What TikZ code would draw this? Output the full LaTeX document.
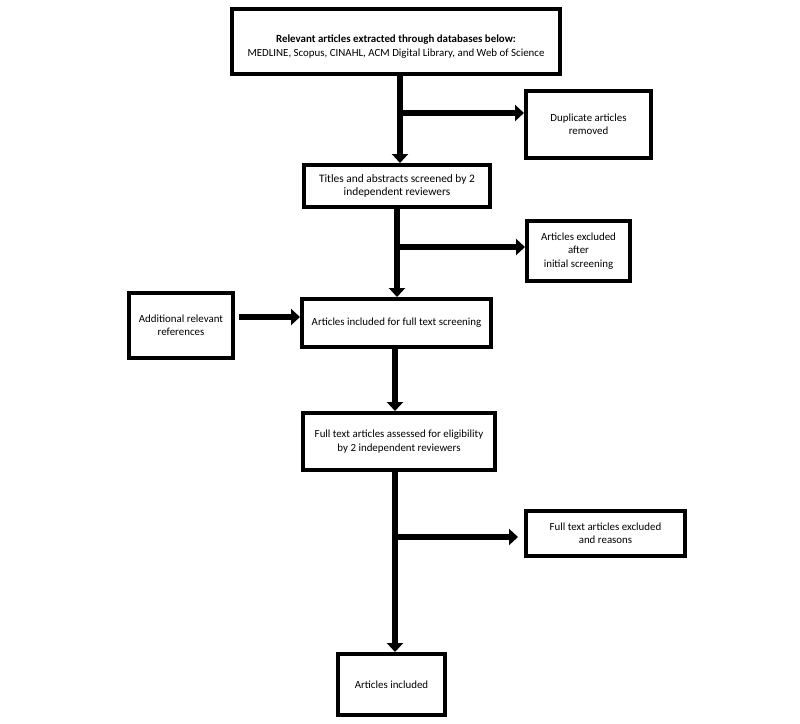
\documentclass[tikz,border=0pt]{standalone}
\usepackage{fontspec}
\setmainfont{Carlito}
\usepackage{tikz}
\usetikzlibrary{positioning,arrows.meta,calc}
\tikzset{
  flow/.style={-{Triangle[length=9pt,width=16pt]}, line width=6.5pt, draw=black},
  every node/.style={anchor=center}
}

\begin{document}
\begin{tikzpicture}[
    x=1pt, y=-1pt,
    font=\fontsize{10.9}{13.3}\selectfont,
    box/.style={draw=black, line width=4pt, align=center, inner sep=2pt},
    larger/.style={font=\fontsize{11.4}{13.3}\selectfont},
    flow/.style={-{Triangle[length=9pt,width=16pt]}, line width=6.5pt, draw=black}
  ]
  \useasboundingbox (0,0) rectangle (800,723);

  % boxes of the main column
  \node[box, minimum width=328pt, minimum height=65pt] (search) at (396,41.5)
    {\rule{0pt}{18pt}\textbf{Relevant articles extracted through databases below:}\\MEDLINE, Scopus, CINAHL, ACM Digital Library, and Web of Science};
  \node[box, larger, minimum width=186pt, minimum height=42pt] (titles) at (397,186)
    {Titles and abstracts screened by 2\\independent reviewers};
  \node[box, minimum width=189pt, minimum height=48pt] (incl) at (396.5,323)
    {Articles included for full text screening};
  \node[box, minimum width=192pt, minimum height=57pt] (full) at (399,441.5)
    {Full text articles assessed for eligibility\\by 2 independent reviewers};
  \node[box, minimum width=107pt, minimum height=61pt] (final) at (391.5,684.5)
    {Articles included};

  % side boxes
  \node[box, minimum width=125pt, minimum height=67pt] (dup) at (588.5,124.5)
    {Duplicate articles\\removed};
  \node[box, minimum width=103pt, minimum height=60pt] (excl1) at (578.5,251)
    {Articles excluded\\after\\initial screening};
  \node[box, minimum width=104pt, minimum height=65pt] (add) at (181,325.5)
    {Additional relevant\\references};
  \node[box, minimum width=159pt, minimum height=45pt] (excl2) at (605.5,533.5)
    {Full text articles excluded\\and reasons};

  % branch points
  \coordinate (splitA) at (400,113);
  \coordinate (splitB) at (397,247);
  \coordinate (splitC) at (395,537);
  \coordinate (addout) at (239,317);

  % vertical arrows
  \draw[flow] (search.south -| splitA) -- (titles.north -| splitA);
  \draw[flow] (titles.south -| splitB) -- (incl.north -| splitB);
  \draw[flow] (incl.south -| splitC)   -- (full.north -| splitC);
  \draw[flow] (full.south -| splitC)   -- (final.north -| splitC);

  % side arrows
  \draw[flow] (splitA) -- (splitA -| dup.west);
  \draw[flow] (splitB) -- (splitB -| excl1.west);
  \draw[flow] (splitC) -- ($(splitC -| excl2.west)+(-6,0)$);
  \draw[flow] (addout) -- (addout -| incl.west);

\end{tikzpicture}
\end{document}
